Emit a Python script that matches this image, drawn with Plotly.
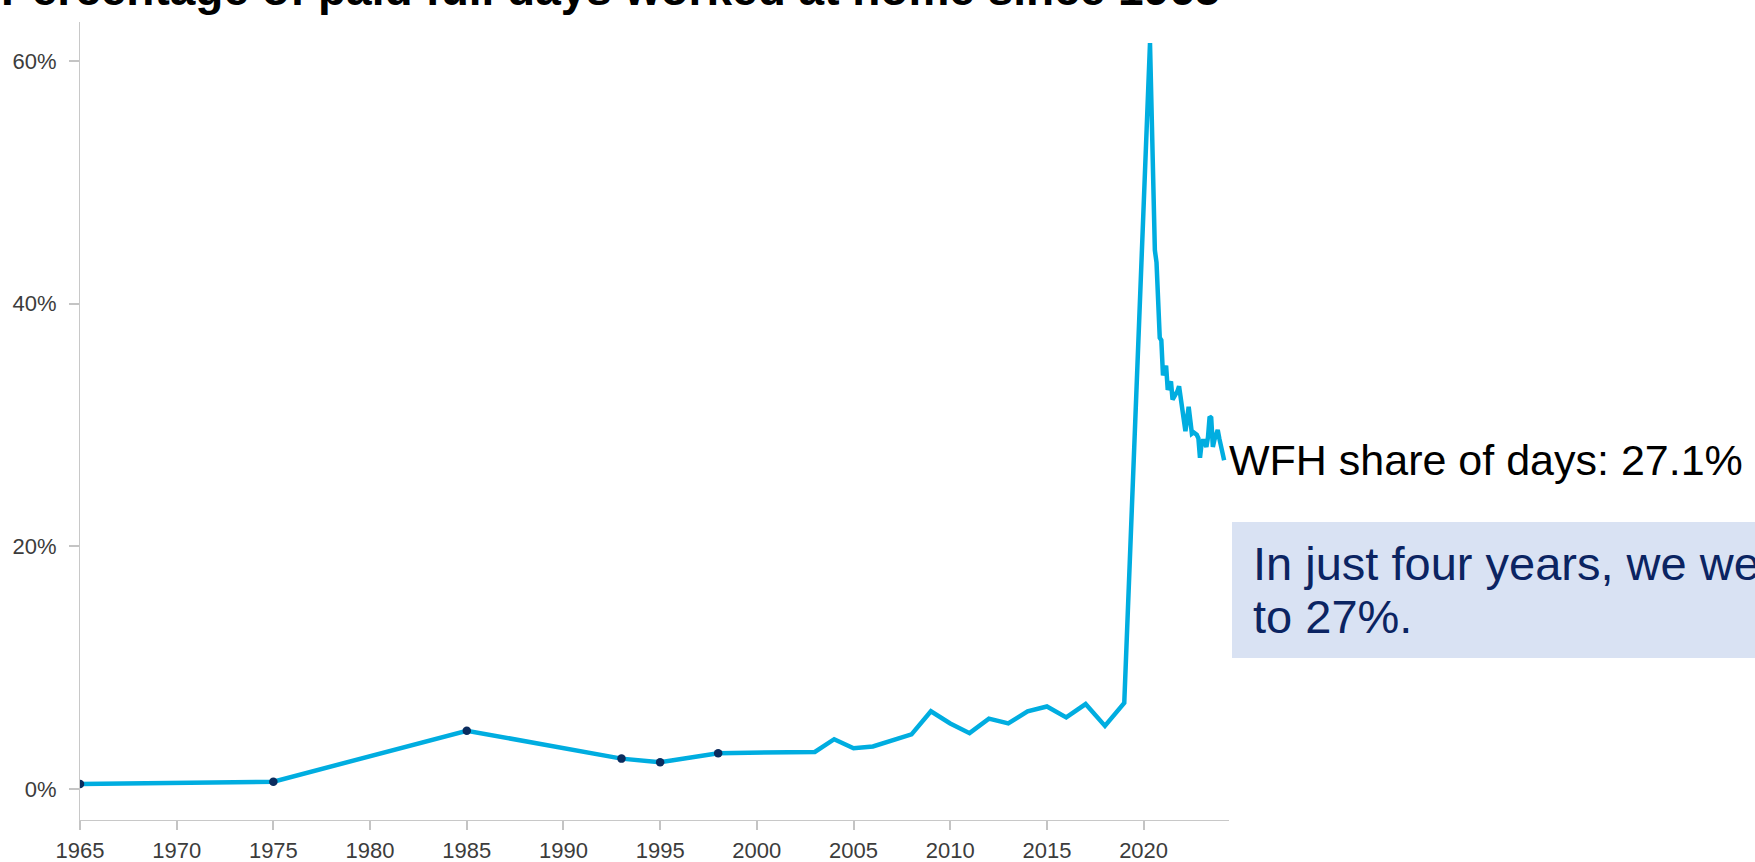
import pandas as pd
import plotly.graph_objects as go

# Annual estimates (percent of paid full days worked at home)
annual_years = [1965, 1975, 1985, 1993, 1995, 1998, 2003, 2004, 2005, 2006, 2008, 2009,
                2010, 2011, 2012, 2013, 2014, 2015, 2016, 2017, 2018, 2019]
annual_share = [0.4, 0.6, 4.8, 2.5, 2.2, 2.95, 3.05, 4.1, 3.35, 3.5, 4.5, 6.4,
                5.4, 4.6, 5.8, 5.4, 6.4, 6.8, 5.9, 7.0, 5.2, 7.1]

# Years taken from the older time-use surveys, marked with dots
survey_years = [1965, 1975, 1985, 1993, 1995, 1998]

# Monthly survey readings, May 2020 onward
monthly_start = "2020-05-01"
monthly_share = [61.5, 56.0, 50.0, 44.4, 43.4, 38.9, 37.2, 37.0, 34.1, 34.5, 34.9, 32.9,
                 33.3, 33.6, 32.1, 32.3, 32.5, 32.8, 33.2, 32.3, 31.2, 30.0, 29.5, 30.5,
                 31.5, 30.4, 29.3, 29.4, 29.3, 29.2, 28.9, 27.3, 28.5, 28.8, 28.5, 28.2,
                 29.0, 30.7, 30.6, 28.2, 28.8, 29.3, 29.6, 28.9, 28.2, 27.8, 27.1]

x_tick_years = [1965, 1970, 1975, 1980, 1985, 1990, 1995, 2000, 2005, 2010, 2015, 2020]
y_ticks = [0, 20, 40, 60]

title_text = "Percentage of paid full days worked at home since 1965"
callout_lines = ["In just four years, we went from 7%", "to 27%."]

FONT = "Liberation Sans, Arial, Helvetica, sans-serif"
LINE_COLOR = "#00ADE0"
DOT_COLOR = "#0B2C5E"
NAVY = "#0B2462"

W, H = 1755, 862
ML, MR, MT, MB = 80, 526, 22, 42
PW, PH = W - ML - MR, H - MT - MB


def paper_x(px):
    return (px - ML) / PW


def paper_y(py):
    return (H - MB - py) / PH


annual_dates = pd.to_datetime([f"{y}-01-01" for y in annual_years])
monthly_dates = pd.date_range(monthly_start, periods=len(monthly_share), freq="MS")

x_all = list(annual_dates) + list(monthly_dates)
y_all = annual_share + monthly_share

survey_idx = [annual_years.index(y) for y in survey_years]
survey_dates = [annual_dates[i] for i in survey_idx]
survey_vals = [annual_share[i] for i in survey_idx]

fig = go.Figure()
fig.add_trace(go.Scatter(
    x=x_all, y=y_all, mode="lines",
    line=dict(color=LINE_COLOR, width=4.5),
    hoverinfo="skip", showlegend=False,
))
fig.add_trace(go.Scatter(
    x=survey_dates, y=survey_vals, mode="markers",
    marker=dict(color=DOT_COLOR, size=8.5),
    hoverinfo="skip", showlegend=False,
))

# Title sits mostly above the top edge of the page
fig.add_annotation(
    text=f"<b>{title_text}</b>", xref="paper", yref="paper",
    x=paper_x(0), y=paper_y(-11), xanchor="left", yanchor="middle",
    showarrow=False, borderpad=0,
    font=dict(family=FONT, size=46, color="#000000"),
)

# End-of-line label
fig.add_annotation(
    text=f"WFH share of days: {monthly_share[-1]}%",
    x=monthly_dates[-1], y=monthly_share[-1], xref="x", yref="y",
    xanchor="left", yanchor="middle", xshift=4, showarrow=False, borderpad=0,
    font=dict(family=FONT, size=43, color="#000000"),
)

# Call-out box
fig.add_shape(
    type="rect", xref="paper", yref="paper",
    x0=paper_x(1232), x1=paper_x(1900), y0=paper_y(658), y1=paper_y(522),
    fillcolor="#D9E2F3", line=dict(width=0), layer="below",
)
for line_text, center_px in zip(callout_lines, [563.7, 616.7]):
    fig.add_annotation(
        text=line_text, xref="paper", yref="paper",
        x=paper_x(1252), y=paper_y(center_px), xanchor="left", yanchor="middle",
        showarrow=False, borderpad=0,
        font=dict(family=FONT, size=47, color=NAVY),
    )

fig.update_layout(
    width=W, height=H,
    margin=dict(l=ML, r=MR, t=MT, b=MB, pad=0, autoexpand=False),
    paper_bgcolor="white", plot_bgcolor="white",
    font=dict(family=FONT, color="#3C3C3C"),
    showlegend=False,
)
fig.update_xaxes(
    type="date", automargin=False,
    range=["1965-01-01", "2024-06-01"],
    tickmode="array",
    tickvals=[f"{y}-01-01" for y in x_tick_years],
    ticktext=[str(y) for y in x_tick_years],
    ticks="outside", ticklen=9, tickwidth=2, tickcolor="#C4C4C4",
    showline=True, linecolor="#C8C8C8", linewidth=1,
    showgrid=False, zeroline=False,
    tickfont=dict(family=FONT, size=22, color="#3C3C3C"),
    ticklabelstandoff=2,
)
fig.update_yaxes(
    automargin=False,
    range=[-2.56, 63.23],
    tickmode="array", tickvals=y_ticks, ticktext=[f"{v}%" for v in y_ticks],
    ticks="outside", ticklen=10, tickwidth=2, tickcolor="#C4C4C4",
    showline=True, linecolor="#C8C8C8", linewidth=1,
    showgrid=False, zeroline=False,
    tickfont=dict(family=FONT, size=22, color="#3C3C3C"),
    ticklabelstandoff=8,
)

fig.write_html("out.html")
